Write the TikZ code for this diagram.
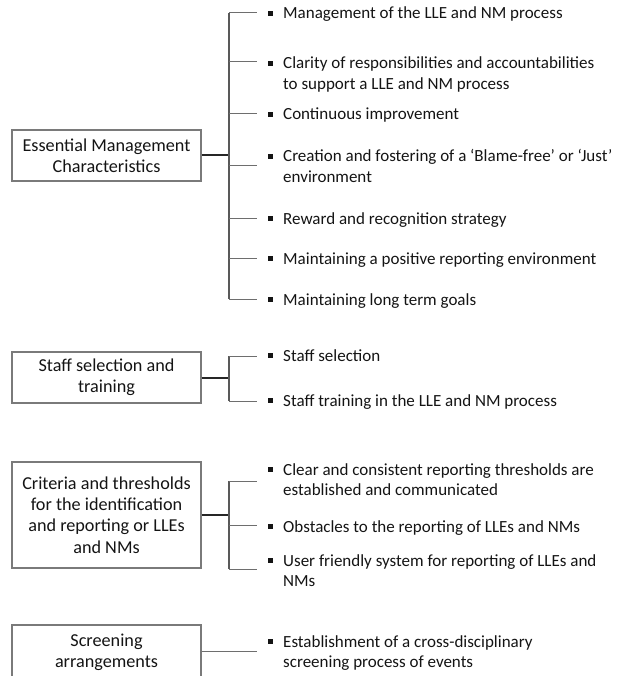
\documentclass[tikz,border=0pt]{standalone}
\usepackage{fontspec}
\setmainfont{Carlito}
\definecolor{inkc}{HTML}{141414}
\definecolor{framec}{HTML}{7A7A7A}
\definecolor{linec}{HTML}{6E6E6E}
\tikzset{
  catbox/.style={draw=framec, line width=1.1pt, minimum width=189pt, inner sep=0pt,
    align=center, text=inkc, font=\fontsize{18.2}{21.4}\selectfont},
  item/.style={anchor=base west, inner sep=0pt, text=inkc,
    font=\fontsize{17}{20.6}\selectfont},
  stem/.style={draw=black!85, line width=1.4pt},
  trunk/.style={draw=black!65, line width=1.2pt},
  branch/.style={draw=linec, line width=1pt}
}
% bullet set to the left of the first line of an item
\newcommand{\sq}{\llap{\rule[3.4pt]{4.6pt}{4.6pt}\hspace{10.5pt}}}
\newcommand{\itemtext}[1]{\begin{tabular}[t]{@{}l@{}}#1\end{tabular}}
\begin{document}
\begin{tikzpicture}[x=1pt, y=-1pt]
\useasboundingbox (0,0) rectangle (624,676);
\clip (0,0) rectangle (624,676);

% ---- category boxes
\node[catbox, minimum height=51pt] (c1) at (106.5,155.5) {Essential Management\\Characteristics};
\node[catbox, minimum height=51pt] (c2) at (106.5,377.5) {Staff selection and\\training};
\node[catbox, minimum height=106pt] (c3) at (106.5,515) {Criteria and thresholds\\for the identification\\and reporting or LLEs\\and NMs};
\node[catbox, minimum height=54pt] (c4) at (106.5,652) {Screening\\arrangements};

% ---- items
\node[item] (a1) at (283,19)  {\itemtext{\sq Management of the LLE and NM process}};
\node[item] (a2) at (283,69)  {\itemtext{\sq Clarity of responsibilities and accountabilities\\to support a LLE and NM process}};
\node[item] (a3) at (283,120) {\itemtext{\sq Continuous improvement}};
\node[item] (a4) at (283,162) {\itemtext{\sq Creation and fostering of a ‘Blame-free’ or ‘Just’\\environment}};
\node[item] (a5) at (283,224) {\itemtext{\sq Reward and recognition strategy}};
\node[item] (a6) at (283,264) {\itemtext{\sq Maintaining a positive reporting environment}};
\node[item] (a7) at (283,305) {\itemtext{\sq Maintaining long term goals}};

\node[item] (b1) at (283,361) {\itemtext{\sq Staff selection}};
\node[item] (b2) at (283,406) {\itemtext{\sq Staff training in the LLE and NM process}};

\node[item] (d1) at (283,475) {\itemtext{\sq Clear and consistent reporting thresholds are\\established and communicated}};
\node[item] (d2) at (283,532) {\itemtext{\sq Obstacles to the reporting of LLEs and NMs}};
\node[item] (d3) at (283,566) {\itemtext{\sq User friendly system for reporting of LLEs and\\NMs}};

\node[item] (e1) at (283,647) {\itemtext{\sq Establishment of a cross-disciplinary\\screening process of events}};

% ---- junctions on the trunks and free ends of the branches
\coordinate (j1) at (229,155);
\coordinate (j2) at (229,378);
\coordinate (j3) at (229,515);
\foreach \n/\y in {a1/13, a2/62, a3/114, a4/166, a5/218, a6/258, a7/299,
                   b1/356, b2/401, d1/481, d2/525, d3/569, e1/651}
  \coordinate (\n-end) at (257,\y);

% ---- connectors
\draw[stem] (c1.east |- j1) -- (j1);
\draw[trunk] (j1 |- a1-end) -- (j1 |- a7-end);
\foreach \n in {a1,a2,a3,a4,a5,a6,a7}
  \draw[branch] (j1 |- \n-end) -- (\n-end);

\draw[stem] (c2.east |- j2) -- (j2);
\draw[trunk] (j2 |- b1-end) -- (j2 |- b2-end);
\foreach \n in {b1,b2}
  \draw[branch] (j2 |- \n-end) -- (\n-end);

\draw[stem] (c3.east |- j3) -- (j3);
\draw[trunk] (j3 |- d1-end) -- (j3 |- d3-end);
\foreach \n in {d1,d2,d3}
  \draw[branch] (j3 |- \n-end) -- (\n-end);

\draw[branch] (c4.east |- e1-end) -- (e1-end);
\end{tikzpicture}
\end{document}
